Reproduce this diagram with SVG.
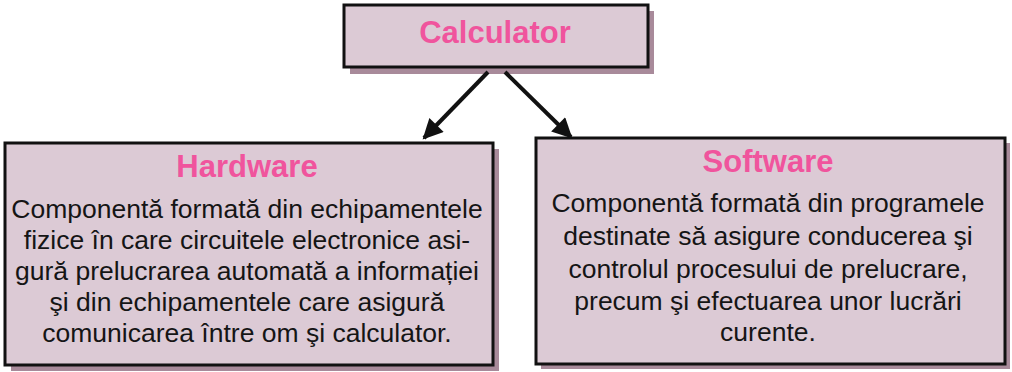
<svg xmlns="http://www.w3.org/2000/svg" width="1012" height="372" viewBox="0 0 1012 372">
<style>
.box{fill:#dccad5;stroke:#111;stroke-width:3}
.shadow{fill:#a88a9a}
.title{font-family:"Liberation Sans",Arial,sans-serif;font-weight:bold;font-size:31px;fill:#f0549d;text-anchor:middle}
.body{font-family:"Liberation Sans",Arial,sans-serif;font-size:26.5px;fill:#151515;text-anchor:middle}
.conn{stroke:#111;stroke-width:4;fill:none}
</style>
<defs>
<marker id="ah" viewBox="0 0 10 10" refX="9" refY="5" markerWidth="5.5" markerHeight="5" markerUnits="strokeWidth" orient="auto">
<path d="M0,0 L10,5 L0,10 z" fill="#111"/>
</marker>
</defs>
<rect width="1012" height="372" fill="#fff"/>
<g id="calculator">
<rect class="shadow" x="350" y="11" width="304" height="63"/>
<rect class="box" x="344" y="5" width="304" height="62"/>
<text class="title" x="495" y="43">Calculator</text>
</g>
<g id="hardware">
<rect class="shadow" x="11" y="149" width="488" height="222"/>
<rect class="box" x="5" y="143" width="488" height="222"/>
<text class="title" x="247" y="177">Hardware</text>
<text class="body" x="247" y="218">Componentă formată din echipamentele</text>
<text class="body" x="247" y="249">fizice în care circuitele electronice asi-</text>
<text class="body" x="247" y="280">gură prelucrarea automată a informației</text>
<text class="body" x="247" y="311">şi din echipamentele care asigură</text>
<text class="body" x="247" y="342">comunicarea între om şi calculator.</text>
</g>
<g id="software">
<rect class="shadow" x="541" y="143" width="469" height="226"/>
<rect class="box" x="536" y="138" width="469" height="226"/>
<text class="title" x="768" y="172">Software</text>
<text class="body" x="768" y="212">Componentă formată din programele</text>
<text class="body" x="768" y="245">destinate să asigure conducerea şi</text>
<text class="body" x="768" y="278">controlul procesului de prelucrare,</text>
<text class="body" x="768" y="310">precum şi efectuarea unor lucrări</text>
<text class="body" x="768" y="341">curente.</text>
</g>
<g id="connectors">
<line class="conn" x1="488" y1="72" x2="424" y2="138" marker-end="url(#ah)"/>
<line class="conn" x1="505" y1="72" x2="571" y2="137" marker-end="url(#ah)"/>
</g>
</svg>
